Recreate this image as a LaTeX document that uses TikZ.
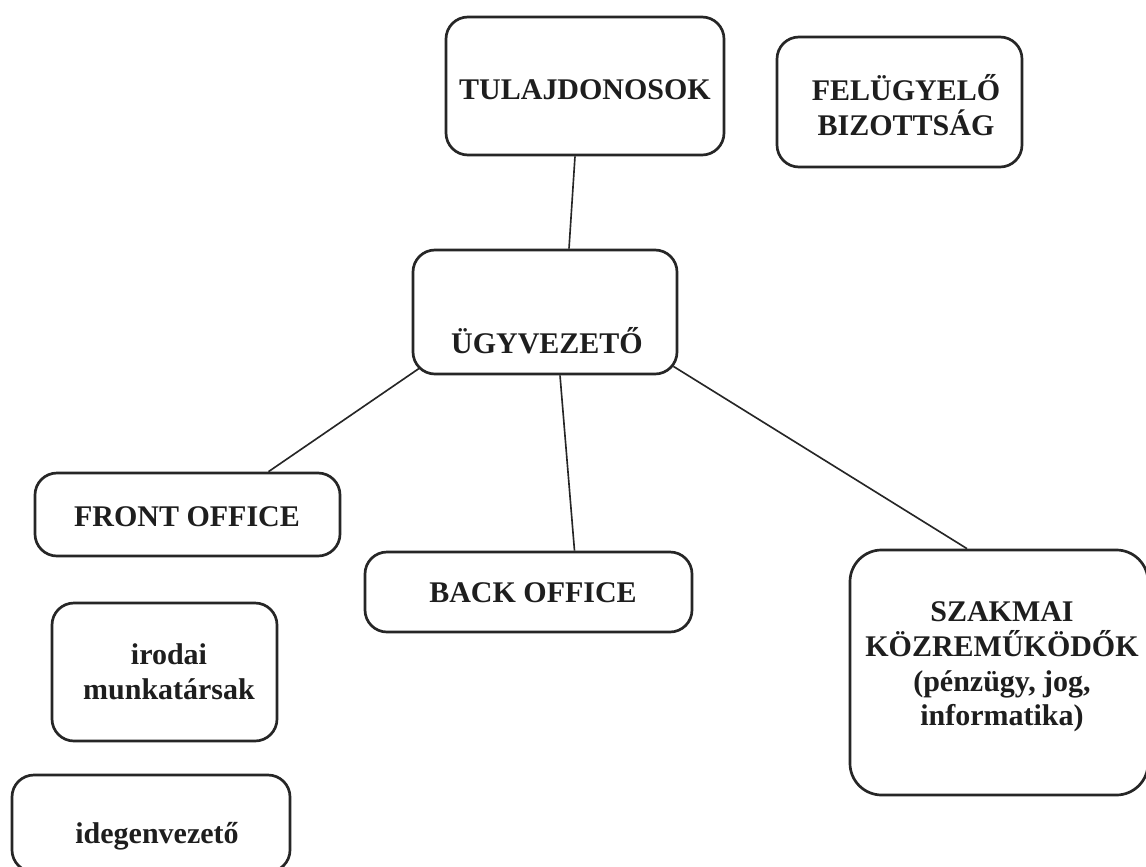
\documentclass[tikz,border=0pt]{standalone}
\usepackage{fontspec}
\setmainfont{Liberation Serif}
\usetikzlibrary{calc}
\definecolor{inkLine}{HTML}{262626}
\definecolor{inkText}{HTML}{1E1E1E}

\begin{document}
\begin{tikzpicture}[
    x=0.03cm, y=-0.03cm,
    font=\fontsize{25.6}{29.5}\selectfont\bfseries,
    orgbox/.style={
        draw=inkLine, line width=2.3pt, rounded corners=0.66cm,
        inner sep=0pt
    },
    boxtext/.style={
        align=center, text=inkText, inner sep=0pt
    },
    link/.style={
        draw=inkLine, line width=1.4pt
    },
]

\useasboundingbox (0,0) rectangle (1146,867);
\clip (0,0) rectangle (1146,867);

% ============================================================
%  TOP LEVEL
% ============================================================
\node[orgbox, minimum width=8.34cm, minimum height=4.14cm] (tulaj) at (585,86) {};
\node[boxtext] (tulajTxt) at (585,90) {TULAJDONOSOK};

\node[orgbox, minimum width=7.35cm, minimum height=3.9cm] (felugy) at (899.5,102) {};
\node[boxtext] (felugyTxt) at (906,105) {FELÜGYELŐ\\BIZOTTSÁG};

\node[orgbox, minimum width=7.92cm, minimum height=3.72cm] (ugyv) at (545,312) {};
\node[boxtext] (ugyvTxt) at (547,341) {ÜGYVEZETŐ};

% ============================================================
%  UNITS
% ============================================================
\node[orgbox, minimum width=9.15cm, minimum height=2.49cm] (front) at (187.5,514.5) {};
\node[boxtext] (frontTxt) at (187,517) {FRONT OFFICE};

\node[orgbox, minimum width=9.81cm, minimum height=2.4cm] (back) at (528.5,592) {};
\node[boxtext] (backTxt) at (533,593) {BACK OFFICE};

\node[orgbox, rounded corners=0.95cm, minimum width=8.94cm, minimum height=7.35cm] (szak) at (999,672.5) {};
\node[boxtext] (szakTxt) at (1002,667)
    {SZAKMAI\\KÖZREMŰKÖDŐK\\(pénzügy, jog,\\informatika)};

\node[orgbox, minimum width=6.75cm, minimum height=4.14cm] (irodai) at (164.5,672) {};
\node[boxtext] (irodaiTxt) at (169,672) {irodai\\munkatársak};

\node[orgbox, minimum width=8.34cm, minimum height=2.91cm] (idegen) at (151,823.5) {};
\node[boxtext] (idegenTxt) at (157,836) {idegenvezető};

% ============================================================
%  CONNECTORS
% ============================================================
\draw[link] ($(tulaj.south)+(-10,0)$) -- ($(ugyv.north)+(24,0)$);
\draw[link] ($(ugyv.south west)+(9,-8)$) -- ($(front.north)+(81,0)$);
\draw[link] ($(ugyv.south)+(15,0)$) -- ($(back.north)+(46,0)$);
\draw[link] ($(ugyv.south east)+(-5,-9)$) -- ($(szak.north)+(-32,0)$);

\end{tikzpicture}
\end{document}
